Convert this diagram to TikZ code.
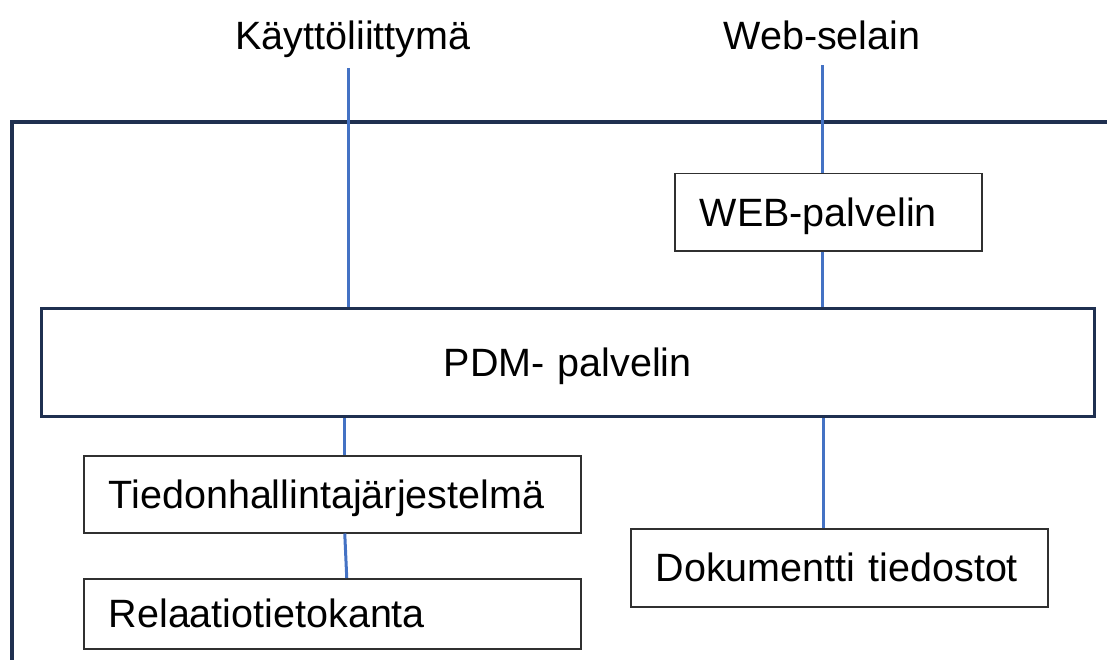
\documentclass[tikz,border=0pt]{standalone}
\usepackage{fontspec}
\setmainfont{Liberation Sans}
\usepackage{tikz}
\definecolor{framenavy}{HTML}{1F3050}
\definecolor{linkblue}{HTML}{4472C4}
\definecolor{boxgray}{HTML}{303030}

\begin{document}
\begin{tikzpicture}[x=1pt, y=-1pt,
    every node/.style={font=\fontsize{39.5pt}{47pt}\selectfont},
    toptext/.style={inner sep=0pt, text depth=0pt, anchor=base},
    boxnode/.style={draw=boxgray, line width=1.5pt, anchor=north west, inner xsep=25pt, inner ysep=0pt, align=left, text height=28.4pt, text depth=0pt},
    link/.style={draw=linkblue, line width=3pt}]
    \clip (0,0) rectangle (1107,660);
    % outer frame
    \draw[framenavy, line width=4.5pt] (12,664) |- (1110,122);
    \node[toptext] (kl) at (353,50) {Käyttöliittymä};
    \node[toptext] (ws) at (822,50) {Web-selain};
    \node[boxnode, text width=257pt, minimum height=77pt] (wp) at (674,173) {WEB-palvelin};
    \node[boxnode, draw=framenavy, line width=2.5pt, align=center, text width=1003pt, minimum height=108pt] (pdm) at (40,307) {PDM- palvelin};
    \node[boxnode, text width=447pt, minimum height=77pt] (th) at (83,455) {Tiedonhallintajärjestelmä};
    \node[boxnode, text width=447pt, minimum height=70pt] (rt) at (83,578) {Relaatiotietokanta};
    \node[boxnode, text width=367pt, minimum height=78pt] (dk) at (630,528) {Dokumentti tiedostot};
    \draw[link, shorten <=18pt] ([xshift=-5pt]kl.south) -- ([xshift=-5pt]kl.south |- pdm.north);
    \draw[link, shorten <=15pt] (ws.south) -- (ws.south |- wp.north);
    \draw[link] (ws.south |- wp.south) -- (ws.south |- pdm.north);
    \draw[link] ([xshift=12.5pt]th.north) -- ([xshift=12.5pt]th.north |- pdm.south);
    \draw[link] ([xshift=12.5pt]th.south) -- ([xshift=14.5pt]rt.north);
    \draw[link] ([xshift=-16pt]dk.north) -- ([xshift=-16pt]dk.north |- pdm.south);
\end{tikzpicture}
\end{document}
